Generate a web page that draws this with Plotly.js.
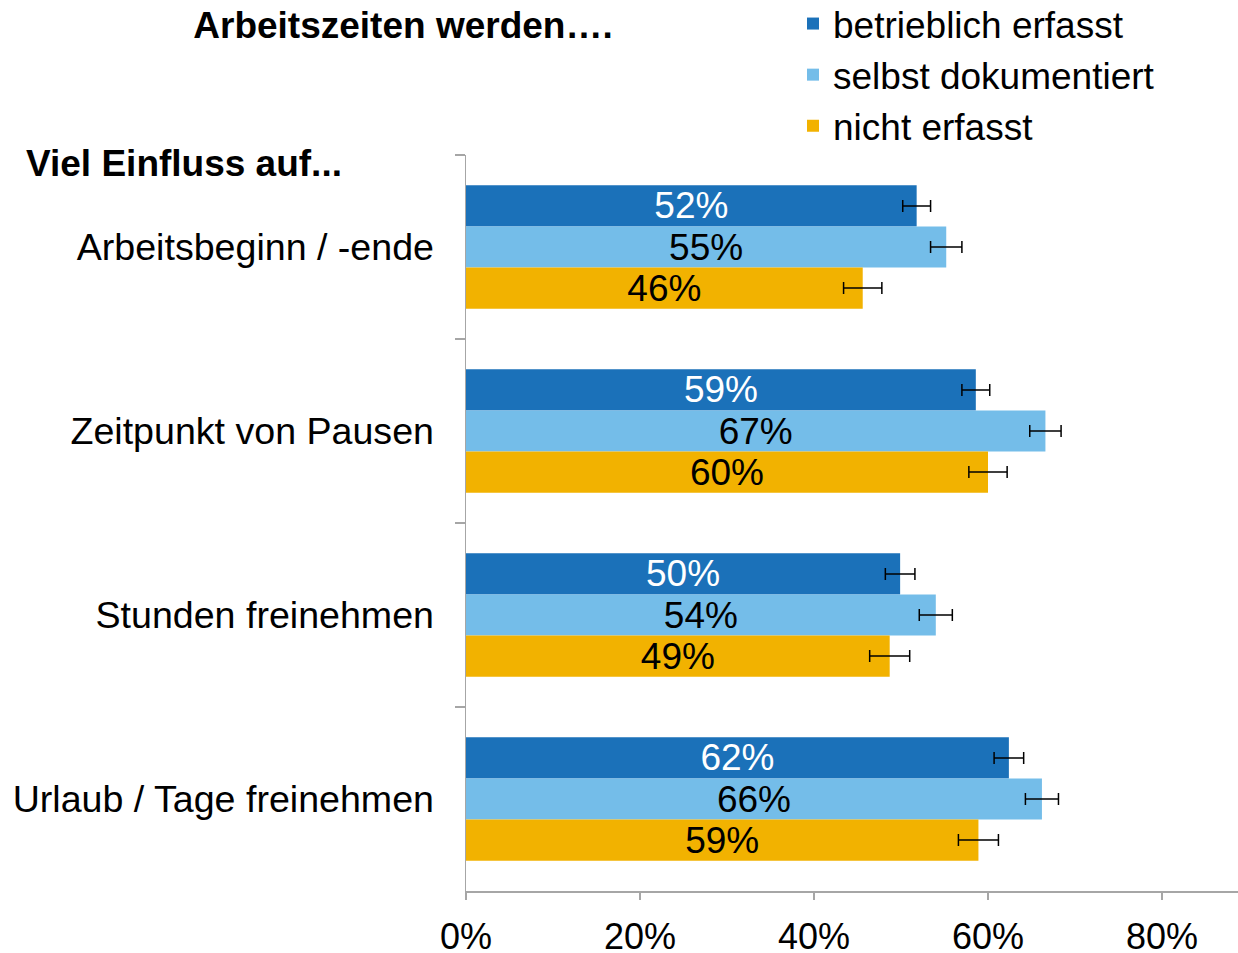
<!DOCTYPE html>
<html>
<head>
<meta charset="utf-8">
<script src="https://cdn.plot.ly/plotly-3.0.1.min.js"></script>
<style>html,body{margin:0;padding:0;background:#fff;}#chart{width:1238px;height:953px;}</style>
</head>
<body>
<div id="chart"></div>
<script>
const categories = ["Arbeitsbeginn / -ende", "Zeitpunkt von Pausen", "Stunden freinehmen", "Urlaub / Tage freinehmen"];
const seriesNames = ["betrieblich erfasst", "selbst dokumentiert", "nicht erfasst"];
const betrieblich = [0.518, 0.586, 0.499, 0.624];
const selbst = [0.552, 0.666, 0.540, 0.662];
const nicht = [0.456, 0.600, 0.487, 0.589];
const errBetrieblich = [0.016, 0.016, 0.017, 0.017];
const errSelbst = [0.018, 0.018, 0.019, 0.019];
const errNicht = [0.022, 0.022, 0.023, 0.023];
const xTickVals = [0, 0.2, 0.4, 0.6, 0.8];
const xTickText = ["0%", "20%", "40%", "60%", "80%"];

const FONT = "Liberation Sans, Arial, sans-serif";
const colors = ["#1B71B9", "#74BDE9", "#F2B200"];
const textColors = ["#ffffff", "#000000", "#000000"];
const values = [betrieblich, selbst, nicht];
const errs = [errBetrieblich, errSelbst, errNicht];

const traces = values.map((v, i) => ({
  type: "bar",
  orientation: "h",
  name: seriesNames[i],
  y: categories,
  x: v,
  marker: {color: colors[i], line: {width: 0}},
  texttemplate: "%{x:.0%}",
  textposition: "inside",
  insidetextanchor: "middle",
  constraintext: "none",
  textfont: {family: FONT, size: 37, color: textColors[i]},
  error_x: {type: "data", array: errs[i], visible: true, color: "#000000", thickness: 1.5, width: 6},
  hoverinfo: "skip"
}));

const layout = {
  width: 1238,
  height: 953,
  margin: {l: 466, r: 0, t: 155, b: 62, autoexpand: false},
  paper_bgcolor: "#ffffff",
  plot_bgcolor: "#ffffff",
  barmode: "group",
  bargap: 0.33,
  bargroupgap: 0,
  font: {family: FONT, size: 37, color: "#000000"},
  title: {
    text: "<b>Arbeitszeiten werden….</b>",
    x: 403 / 1238, xanchor: "center", xref: "container",
    y: 1 - 25 / 953, yanchor: "middle", yref: "container",
    font: {family: FONT, size: 37, color: "#000000"}
  },
  xaxis: {
    range: [0, 772 / 870],
    tickvals: xTickVals,
    ticktext: xTickText,
    showgrid: false,
    zeroline: false,
    showline: true,
    linecolor: "#a6a6a6",
    linewidth: 1.5,
    ticks: "outside",
    ticklen: 7,
    tickcolor: "#a6a6a6",
    tickwidth: 1.5,
    ticklabelstandoff: 6,
    tickfont: {family: FONT, size: 36, color: "#000000"},
    automargin: false,
    fixedrange: true
  },
  yaxis: {
    type: "category",
    autorange: "reversed",
    showgrid: false,
    zeroline: false,
    showline: true,
    linecolor: "#a6a6a6",
    linewidth: 1.5,
    ticks: "outside",
    tickson: "boundaries",
    ticklen: 10,
    tickcolor: "#a6a6a6",
    tickwidth: 1.5,
    ticklabelstandoff: 23,
    tickfont: {family: FONT, size: 37.6, color: "#000000"},
    automargin: false,
    fixedrange: true
  },
  legend: {
    x: (793 - 466) / 772, xanchor: "left",
    y: 1 + 162 / 736, yanchor: "top",
    font: {family: FONT, size: 37, color: "#000000"},
    bgcolor: "rgba(0,0,0,0)",
    tracegroupgap: 0,
    traceorder: "normal"
  },
  annotations: [{
    text: "<b>Viel Einfluss auf...</b>",
    xref: "paper", yref: "paper",
    x: (24 - 466) / 772, xanchor: "left",
    y: 1 - 8 / 736, yanchor: "middle",
    showarrow: false,
    font: {family: FONT, size: 37, color: "#000000"}
  }]
};

Plotly.newPlot("chart", traces, layout, {displayModeBar: false, staticPlot: true});
</script>
</body>
</html>
